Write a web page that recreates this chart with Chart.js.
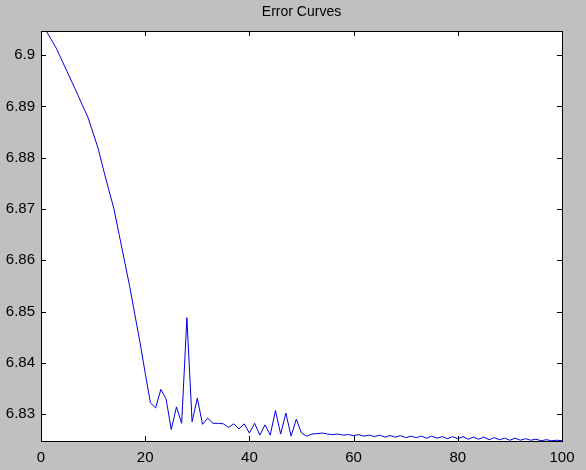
<!DOCTYPE html>
<html>
<head>
<meta charset="utf-8">
<script src="https://cdn.jsdelivr.net/npm/chart.js@4.4.1/dist/chart.umd.min.js"></script>
<style>
  html, body { margin: 0; padding: 0; background: #c0c0c0; }
  canvas { display: block; }
</style>
</head>
<body>
<canvas id="errorChart" width="586" height="470"></canvas>
<script>
// iteration number (x) and error value (y)
const iterations = [
  1, 2, 3, 4, 5, 6, 7, 8, 9, 10, 11, 12, 13, 14, 15, 16, 17, 18, 19, 20,
  21, 22, 23, 24, 25, 26, 27, 28, 29, 30, 31, 32, 33, 34, 35, 36, 37, 38, 39, 40,
  41, 42, 43, 44, 45, 46, 47, 48, 49, 50, 51, 52, 53, 54, 55, 56, 57, 58, 59, 60,
  61, 62, 63, 64, 65, 66, 67, 68, 69, 70, 71, 72, 73, 74, 75, 76, 77, 78, 79, 80,
  81, 82, 83, 84, 85, 86, 87, 88, 89, 90, 91, 92, 93, 94, 95, 96, 97, 98, 99, 100
];
const errors = [
  6.9047, 6.9030, 6.9012, 6.8990, 6.8968, 6.8946, 6.8924, 6.8901, 6.8879, 6.8848,
  6.8817, 6.8776, 6.8738, 6.8700, 6.8650, 6.8600, 6.8550, 6.8495, 6.8440, 6.8380,
  6.8322, 6.8312, 6.8348, 6.8330, 6.8270, 6.8314, 6.8282, 6.8488, 6.8285, 6.8331,
  6.8280, 6.8292, 6.8282, 6.8282, 6.8281, 6.8274, 6.8281, 6.8271, 6.8281, 6.8263,
  6.8282, 6.8259, 6.8279, 6.8259, 6.8307, 6.8261, 6.8302, 6.8257, 6.8290, 6.8263,
  6.8257, 6.8261, 6.8262, 6.8263, 6.8261, 6.8260, 6.8261, 6.8259, 6.8260, 6.8258,
  6.8260, 6.8257, 6.8259, 6.8256, 6.8259, 6.8255, 6.8258, 6.8255, 6.8258, 6.8254,
  6.8257, 6.8254, 6.8257, 6.8253, 6.8257, 6.8253, 6.8256, 6.8252, 6.8256, 6.8252,
  6.8256, 6.8251, 6.8255, 6.8251, 6.8255, 6.8250, 6.8254, 6.8250, 6.8253, 6.8249,
  6.8253, 6.8249, 6.8252, 6.8249, 6.8251, 6.8248, 6.8250, 6.8248, 6.8249, 6.8248
];
const xTicks = [0, 20, 40, 60, 80, 100];
const yTicks = [6.83, 6.84, 6.85, 6.86, 6.87, 6.88, 6.89, 6.9];
const titleText = 'Error Curves';

const points = iterations.map((x, i) => ({ x: x, y: errors[i] }));

// grey figure, white axes box, black frame with inward ticks on all sides
const matlabFrame = {
  id: 'matlabFrame',
  beforeDraw(chart) {
    const { ctx, chartArea: a } = chart;
    ctx.save();
    ctx.fillStyle = '#c0c0c0';
    ctx.fillRect(0, 0, chart.width, chart.height);
    ctx.fillStyle = '#ffffff';
    ctx.fillRect(a.left, a.top, a.right - a.left, a.bottom - a.top);
    ctx.restore();
  },
  afterDraw(chart) {
    const { ctx, chartArea: a, scales } = chart;
    ctx.save();
    ctx.strokeStyle = '#000';
    ctx.lineWidth = 1;
    ctx.strokeRect(a.left + 0.5, a.top + 0.5, a.right - a.left, a.bottom - a.top);
    ctx.beginPath();
    scales.x.ticks.forEach(t => {
      const px = Math.round(scales.x.getPixelForValue(t.value)) + 0.5;
      ctx.moveTo(px, a.bottom); ctx.lineTo(px, a.bottom - 5);
      ctx.moveTo(px, a.top); ctx.lineTo(px, a.top + 5);
    });
    scales.y.ticks.forEach(t => {
      const py = Math.round(scales.y.getPixelForValue(t.value)) + 0.5;
      ctx.moveTo(a.left, py); ctx.lineTo(a.left + 5, py);
      ctx.moveTo(a.right, py); ctx.lineTo(a.right - 5, py);
    });
    ctx.stroke();
    // title centred over the axes box, like matlab does
    ctx.fillStyle = '#000';
    ctx.font = '14px "Liberation Sans", Arial, sans-serif';
    ctx.textAlign = 'center';
    ctx.textBaseline = 'middle';
    ctx.fillText(titleText, (a.left + a.right) / 2, 12);
    ctx.restore();
  }
};

const tickFont = { family: 'Liberation Sans, Arial, sans-serif', size: 15 };

new Chart(document.getElementById('errorChart').getContext('2d'), {
  type: 'line',
  data: {
    datasets: [{
      data: points,
      borderColor: '#0000e6',
      borderWidth: 1,
      pointRadius: 0,
      tension: 0,
      fill: false
    }]
  },
  options: {
    responsive: false,
    animation: false,
    devicePixelRatio: 1,
    layout: { padding: { left: 0, right: 24, top: 31, bottom: 0 } },
    plugins: {
      legend: { display: false },
      tooltip: { enabled: false },
      title: { display: false }
    },
    scales: {
      x: {
        type: 'linear',
        min: 0,
        max: 100,
        grid: { display: false, drawTicks: false },
        border: { display: false },
        afterBuildTicks: s => { s.ticks = xTicks.map(v => ({ value: v })); },
        afterFit: s => { s.height = 29; },
        ticks: { color: '#000', font: tickFont, padding: 8, maxRotation: 0 }
      },
      y: {
        type: 'linear',
        min: 6.82475,
        max: 6.9047,
        grid: { display: false, drawTicks: false },
        border: { display: false },
        afterBuildTicks: s => { s.ticks = yTicks.map(v => ({ value: v })); },
        afterFit: s => { s.width = 41; },
        ticks: {
          color: '#000',
          font: tickFont,
          padding: 6,
          callback: v => String(Number(v.toFixed(2)))
        }
      }
    }
  },
  plugins: [matlabFrame]
});
</script>
</body>
</html>
